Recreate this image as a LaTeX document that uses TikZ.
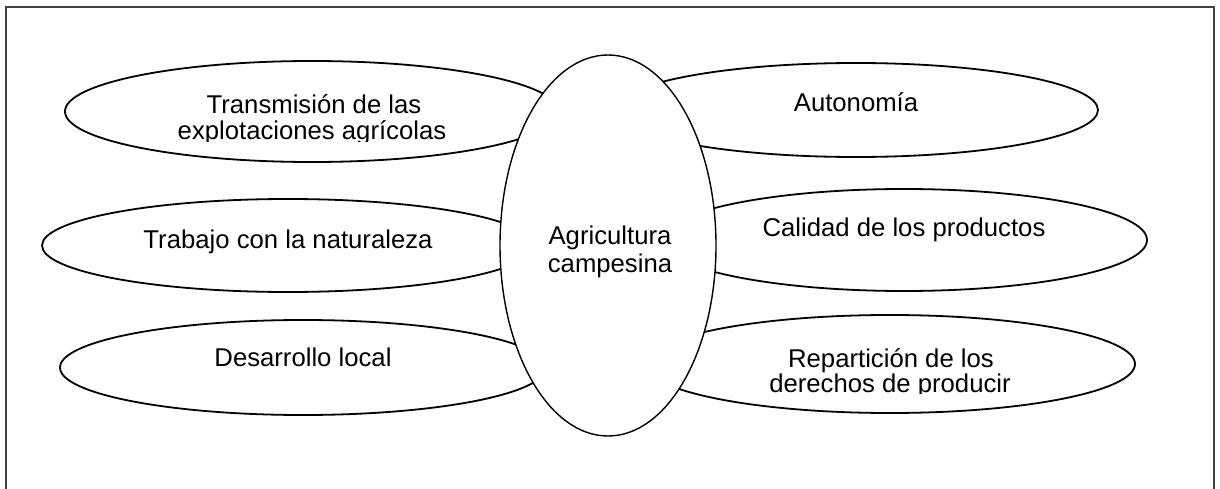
\documentclass[tikz,border=0pt]{standalone}
\usepackage{fontspec}
\setmainfont{Liberation Sans}
\usetikzlibrary{shapes.geometric}
\begin{document}
\begin{tikzpicture}[x=1pt,y=-1pt,
  outer/.style={draw=black, line width=1.8pt, ellipse, inner sep=0pt},
  center/.style={draw=black, fill=white, line width=1.4pt, ellipse, inner sep=0pt},
  lbl/.style={anchor=base, inner sep=0pt, font=\fontsize{25.7}{27}\selectfont},
  frameline/.style={draw=black!75, line width=1.1pt}]
\useasboundingbox (0,0) rectangle (1220,489);
\fill[white] (0,0) rectangle (1220,489);
% frame
\coordinate (fbl) at (6,495);
\coordinate (ftl) at (6,7);
\coordinate (ftr) at (1214,7);
\coordinate (fbr) at (1214,495);
\draw[frameline] (fbl) -- (ftl) -- (ftr) -- (fbr);
% outer ellipses
\node[outer, minimum width=494pt, minimum height=101pt] (e1) at (312,111.5) {};
\node[outer, minimum width=492pt, minimum height=93pt]  (e2) at (288,245.5) {};
\node[outer, minimum width=486pt, minimum height=95pt]  (e3) at (303,367.5) {};
\node[outer, minimum width=484pt, minimum height=94pt]  (e4) at (856,110) {};
\node[outer, minimum width=486pt, minimum height=102pt] (e5) at (904,240) {};
\node[outer, minimum width=490pt, minimum height=98pt]  (e6) at (890,364) {};
% central ellipse
\node[center, minimum width=216pt, minimum height=381pt] (c) at (608,245.5) {};
% texts
\node[lbl] (t1a) at (314,114) {Transmisión de las};
\begin{scope}
\clip (100,118) rectangle (520,141.5);
\node[lbl] (t1b) at (312,140) {explotaciones agrícolas};
\end{scope}
\node[lbl] (t2) at (288,248) {Trabajo con la naturaleza};
\node[lbl] (t3) at (303,366) {Desarrollo local};
\node[lbl] (t4) at (856,112) {Autonomía};
\node[lbl] (t5) at (904,236) {Calidad de los productos};
\node[lbl] (t6a) at (891,367) {Repartición de los};
\begin{scope}
\clip (700,371) rectangle (1100,393.5);
\node[lbl] (t6b) at (890,392) {derechos de producir};
\end{scope}
\node[lbl] (tc1) at (610,244) {Agricultura};
\node[lbl] (tc2) at (610,272) {campesina};
\end{tikzpicture}
\end{document}
